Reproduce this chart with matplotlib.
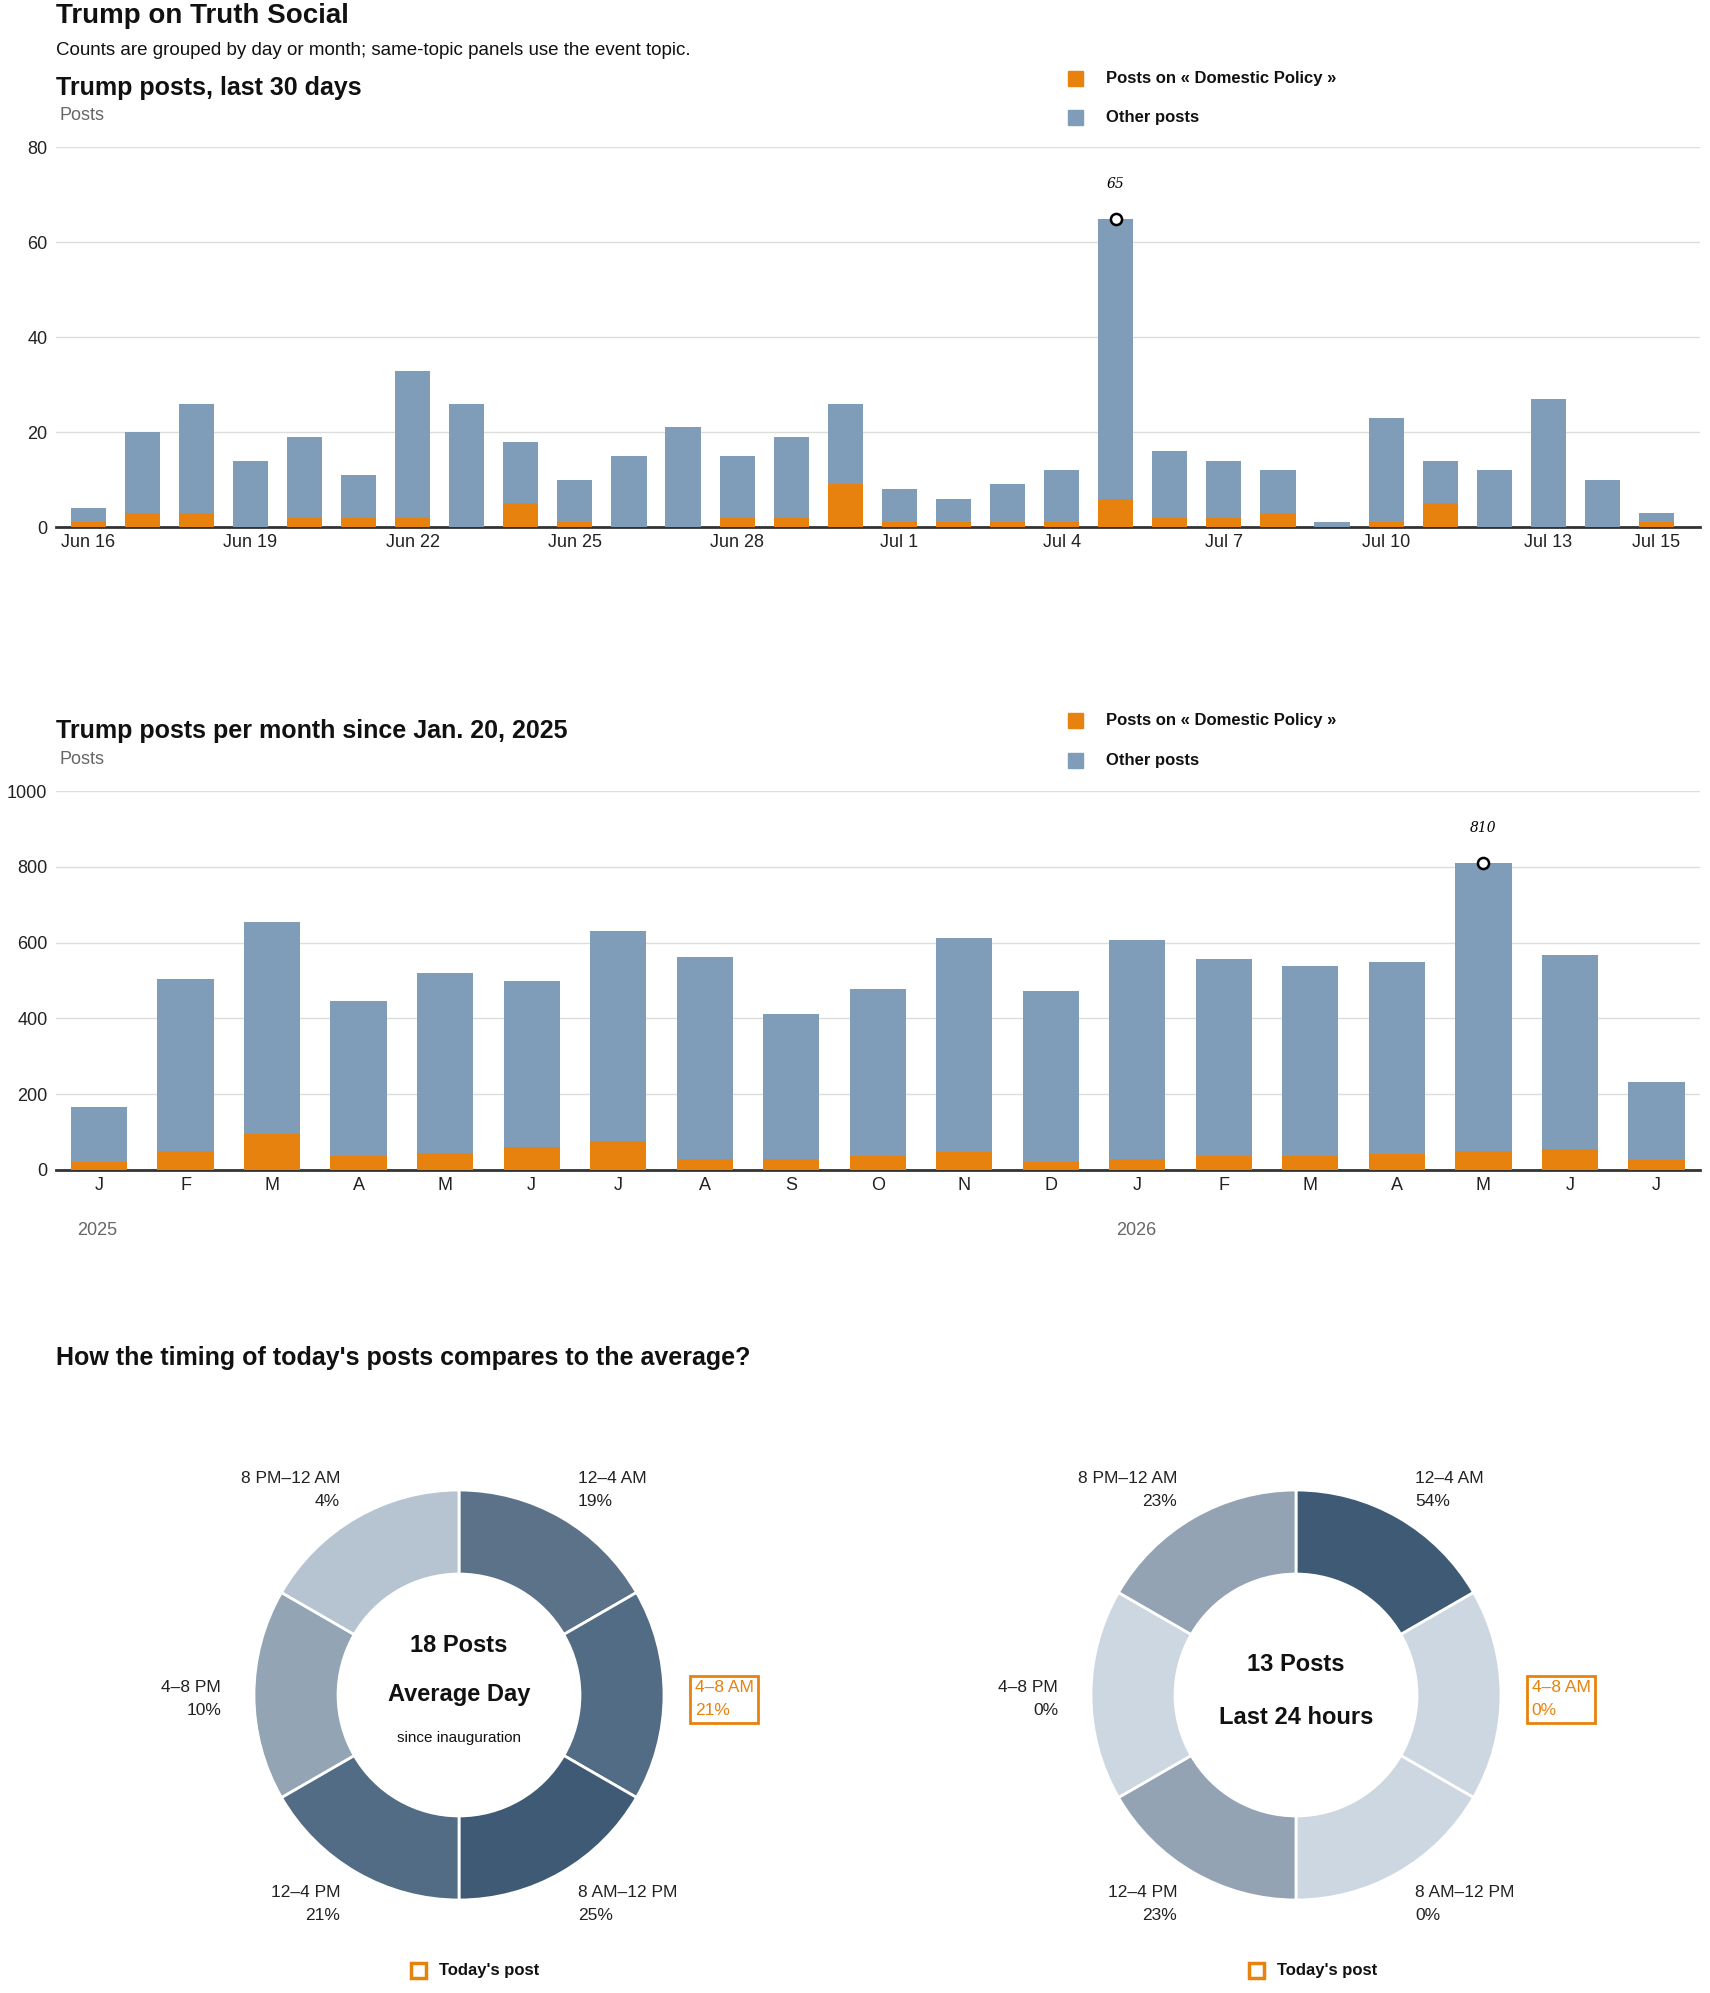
import matplotlib
matplotlib.use("Agg")
import matplotlib.pyplot as plt
from matplotlib.patches import Rectangle
import numpy as np

plt.rcParams['font.family'] = ['Liberation Sans', 'DejaVu Sans']

# ---- data ----
day_labels_all = ["Jun 16","Jun 17","Jun 18","Jun 19","Jun 20","Jun 21","Jun 22","Jun 23","Jun 24","Jun 25",
                  "Jun 26","Jun 27","Jun 28","Jun 29","Jun 30","Jul 1","Jul 2","Jul 3","Jul 4","Jul 5",
                  "Jul 6","Jul 7","Jul 8","Jul 9","Jul 10","Jul 11","Jul 12","Jul 13","Jul 14","Jul 15"]
day_total = [4,20,26,14,19,11,33,26,18,10,15,21,15,19,26,8,6,9,12,65,16,14,12,1,23,14,12,27,10,3]
day_topic = [1,3,3,0,2,2,2,0,5,1,0,0,2,2,9,1,1,1,1,6,2,2,3,0,1,5,0,0,0,1]
day_tick_idx = [0,3,6,9,12,15,18,21,24,27,29]

month_labels = ["J","F","M","A","M","J","J","A","S","O","N","D","J","F","M","A","M","J","J"]
month_total = [165,505,655,447,520,500,630,563,413,478,612,473,606,557,538,550,810,567,232]
month_topic = [22,50,95,38,45,60,75,28,28,38,48,20,28,38,38,42,50,55,25]
years = [(0, "2025"), (12, "2026")]

slots = ["12–4 AM","4–8 AM","8 AM–12 PM","12–4 PM","4–8 PM","8 PM–12 AM"]
avg_pct = [19,21,25,21,10,4]
today_pct = [54,0,0,23,0,23]
avg_colors = ["#5c7289","#526c85","#3f5a75","#526c85","#93a4b4","#b6c3d0"]
today_colors = ["#3f5a75","#cdd7e1","#cdd7e1","#93a3b3","#cdd7e1","#93a3b3"]

ORANGE = "#e8820e"
BLUE = "#7f9db9"
GRID = "#dddddd"

fig = plt.figure(figsize=(17.1, 19.93), dpi=100)

def bar_panel(rect, totals, topic, ylim, yticks, xlim, width):
    ax = fig.add_axes(rect)
    x = np.arange(len(totals))
    other = np.array(totals) - np.array(topic)
    ax.bar(x, topic, width=width, color=ORANGE, zorder=3)
    ax.bar(x, other, bottom=topic, width=width, color=BLUE, zorder=3)
    ax.set_ylim(*ylim)
    ax.set_xlim(*xlim)
    ax.set_yticks(yticks)
    ax.grid(axis='y', color=GRID, lw=1, zorder=0)
    for s in ['top','right','left']:
        ax.spines[s].set_visible(False)
    ax.spines['bottom'].set_color('#333333')
    ax.spines['bottom'].set_linewidth(2)
    ax.tick_params(axis='y', length=0, labelsize=13, colors='#222222', pad=6)
    ax.tick_params(axis='x', length=0, labelsize=13, colors='#222222', pad=5)
    i = int(np.argmax(totals))
    ax.plot([i], [totals[i]], 'o', mfc='white', mec='black', mew=1.8, ms=8, zorder=5)
    ax.annotate(str(totals[i]), (i, totals[i]), xytext=(0, 25), textcoords='offset points',
                ha='center', va='center', fontsize=10, style='italic', family='DejaVu Serif')
    return ax

ax1 = bar_panel([0.0326, 0.7355, 0.9614, 0.1905], day_total, day_topic, (0, 80), [0,20,40,60,80],
                (-0.6, 29.8), 0.65)
ax1.set_xticks(day_tick_idx)
ax1.set_xticklabels([day_labels_all[i] for i in day_tick_idx])

ax2 = bar_panel([0.0326, 0.413, 0.9614, 0.190], month_total, month_topic, (0, 1000),
                [0,200,400,600,800,1000], (-0.5, 18.5), 0.65)
ax2.set_xticks(np.arange(len(month_labels)))
ax2.set_xticklabels(month_labels)
for xi, yl in years:
    ax2.text(xi - 0.25, -0.16, yl, transform=ax2.get_xaxis_transform(), fontsize=13,
             color='#666666', ha='left', va='center')

# titles
fig.text(0.0326, 0.992, "Trump on Truth Social", fontsize=20, fontweight='bold', va='center', color='#111111')
fig.text(0.0326, 0.9746, "Counts are grouped by day or month; same-topic panels use the event topic.",
         fontsize=13.5, va='center', color='#111111')
fig.text(0.0326, 0.956, "Trump posts, last 30 days", fontsize=18, fontweight='bold', va='center', color='#111111')
fig.text(0.035, 0.942, "Posts", fontsize=13, va='center', color='#666666')
fig.text(0.0326, 0.633, "Trump posts per month since Jan. 20, 2025", fontsize=18, fontweight='bold',
         va='center', color='#111111')
fig.text(0.035, 0.619, "Posts", fontsize=13, va='center', color='#666666')
fig.text(0.0326, 0.3185, "How the timing of today's posts compares to the average?", fontsize=18,
         fontweight='bold', va='center', color='#111111')

def legend(y1, y2):
    for y, c, t in [(y1, ORANGE, "Posts on « Domestic Policy »"), (y2, BLUE, "Other posts")]:
        fig.patches.append(Rectangle((0.6245, y - 0.0038), 0.0088, 0.0076, transform=fig.transFigure,
                                     color=c))
        fig.text(0.647, y, t, fontsize=12, fontweight='bold', va='center', color='#111111')

legend(0.9606, 0.9409)
legend(0.6383, 0.6186)

# donuts
R = 205.0
H = 1.45
label_pos = [(0.58, 1.0, 'left'), (1.15, -0.02, 'left'), (0.58, -1.02, 'left'),
             (-0.58, -1.02, 'right'), (-1.16, -0.02, 'right'), (-0.58, 1.0, 'right')]

def donut(cx_px, cy_px, pct, colors, center_texts, leg_x):
    half = H * R
    ax = fig.add_axes([(cx_px - half) / 1710, (cy_px - half) / 1993, 2 * half / 1710, 2 * half / 1993])
    ax.pie([1] * 6, colors=colors, startangle=90, counterclock=False, radius=1,
           wedgeprops=dict(width=0.41, edgecolor='white', linewidth=2))
    ax.set_xlim(-H, H); ax.set_ylim(-H, H); ax.set_aspect('equal'); ax.axis('off')
    for k, (lx, ly, ha) in enumerate(label_pos):
        txt = f"{slots[k]}\n{pct[k]}%"
        if k == 1:
            ax.text(lx, ly, txt, ha='left', va='center', fontsize=12.5, color=ORANGE, linespacing=1.7,
                    bbox=dict(boxstyle='square,pad=0.25', fc='white', ec=ORANGE, lw=2))
        else:
            ax.text(lx, ly, txt, ha=ha, va='center', fontsize=12.5, color='#222222', linespacing=1.7)
    for y, t, fs, fw in center_texts:
        ax.text(0, y, t, ha='center', va='center', fontsize=fs, fontweight=fw, color='#111111')
    fig.patches.append(Rectangle((leg_x, 0.0077), 0.0085, 0.0073, transform=fig.transFigure,
                                 fill=False, ec=ORANGE, lw=2.5))
    fig.text(leg_x + 0.016, 0.0115, "Today's post", fontsize=12, fontweight='bold', va='center',
             color='#111111')

donut(459, 298, avg_pct, avg_colors,
      [(0.24, "18 Posts", 17, 'bold'), (0.0, "Average Day", 17, 'bold'),
       (-0.21, "since inauguration", 11, 'normal')], 0.2405)
donut(1296, 298, today_pct, today_colors,
      [(0.15, "13 Posts", 17, 'bold'), (-0.11, "Last 24 hours", 17, 'bold')], 0.7305)

fig.savefig("out.png", dpi=100)
